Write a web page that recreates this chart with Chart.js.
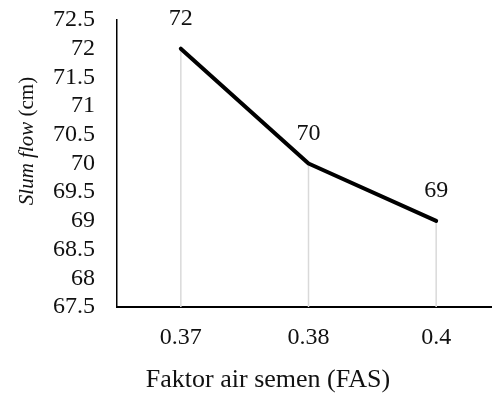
<!DOCTYPE html>
<html>
<head>
<meta charset="utf-8">
<script src="https://cdn.jsdelivr.net/npm/chart.js@4.4.1/dist/chart.umd.min.js"></script>
<style>
  html, body { margin: 0; padding: 0; background: #fff; overflow: hidden; }
  #wrap { position: relative; width: 500px; height: 394px; }
</style>
</head>
<body>
<div id="wrap"><canvas id="chart"></canvas></div>
<script>
// data
const fasLabels = ["0.37", "0.38", "0.4"];
const slumFlow = [72, 70, 69];
const yMin = 67.5, yMax = 72.5, yStep = 0.5;
const xTitle = "Faktor air semen (FAS)";
const yTitleItalic = "Slum flow";
const yTitleRest = " (cm)";

const serif = "'Liberation Serif', 'Times New Roman', serif";
const textColor = "#111";

// grey drop lines, value labels and the axis titles
const extras = {
    id: 'extras',
    beforeDatasetsDraw(chart) {
        const ctx = chart.ctx;
        const bottom = chart.chartArea.bottom;
        const pts = chart.getDatasetMeta(0).data;
        ctx.save();
        ctx.strokeStyle = "#d9d9d9";
        ctx.lineWidth = 1.5;
        pts.forEach(p => {
            ctx.beginPath();
            ctx.moveTo(p.x, p.y);
            ctx.lineTo(p.x, bottom);
            ctx.stroke();
        });
        ctx.restore();
    },
    afterDatasetsDraw(chart) {
        const ctx = chart.ctx;
        const pts = chart.getDatasetMeta(0).data;
        ctx.save();
        ctx.fillStyle = textColor;
        ctx.font = "24px " + serif;
        ctx.textAlign = "center";
        ctx.textBaseline = "middle";
        pts.forEach((p, i) => {
            ctx.fillText(String(slumFlow[i]), p.x, p.y - 30);
        });

        // x axis title (centred on the whole picture, like the original)
        ctx.font = "26px " + serif;
        ctx.fillText(xTitle, 268, 380);

        // y axis title
        ctx.translate(27, 141);
        ctx.rotate(-Math.PI / 2);
        ctx.textAlign = "left";
        const fi = "italic 21px " + serif, fr = "21px " + serif;
        ctx.font = fi;
        const w1 = ctx.measureText(yTitleItalic).width;
        ctx.font = fr;
        const w2 = ctx.measureText(yTitleRest).width;
        const x0 = -(w1 + w2) / 2;
        ctx.font = fi;
        ctx.fillText(yTitleItalic, x0, 0);
        ctx.font = fr;
        ctx.fillText(yTitleRest, x0 + w1, 0);
        ctx.restore();
    }
};

new Chart(document.getElementById('chart'), {
    type: 'line',
    data: {
        labels: fasLabels,
        datasets: [{
            data: slumFlow,
            borderColor: "#000",
            borderWidth: 4,
            borderCapStyle: 'round',
            borderJoinStyle: 'round',
            pointRadius: 0,
            tension: 0,
            fill: false,
        }]
    },
    options: {
        responsive: true,
        maintainAspectRatio: false,
        animation: false,
        layout: { padding: { top: 20, left: 0, right: 0, bottom: 0 } },
        plugins: {
            legend: { display: false },
            tooltip: { enabled: false },
        },
        scales: {
            x: {
                offset: true,
                grid: { display: false, drawTicks: false },
                border: { display: true, color: "#000", width: 2 },
                ticks: {
                    color: textColor,
                    font: { family: serif, size: 24 },
                    padding: 16,
                },
                afterFit(scale) { scale.height = 87; }
            },
            y: {
                min: yMin,
                max: yMax,
                grid: { display: false, drawTicks: false },
                border: { display: true, color: "#000", width: 1.5 },
                ticks: {
                    stepSize: yStep,
                    autoSkip: false,
                    color: textColor,
                    font: { family: serif, size: 24 },
                    padding: 22,
                    callback: v => String(v),
                },
                afterFit(scale) {
                    scale.width = 117;
                    scale.paddingTop = 0;
                    scale.paddingBottom = 0;
                }
            }
        }
    },
    plugins: [extras]
});
</script>
</body>
</html>
